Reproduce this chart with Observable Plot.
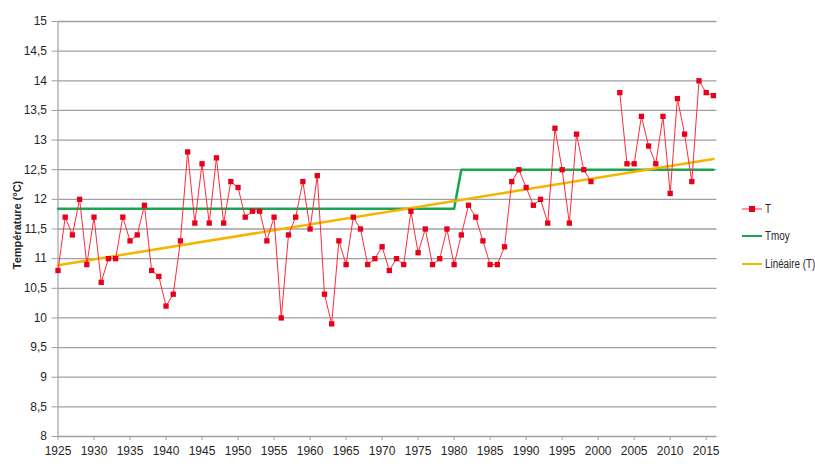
<!DOCTYPE html>
<html><head><meta charset="utf-8">
<script src="https://cdn.jsdelivr.net/npm/d3@7"></script>
<script src="https://cdn.jsdelivr.net/npm/@observablehq/plot@0.6"></script>
<style>
body{margin:0;background:#fff;}
#wrap{position:relative;width:815px;height:472px;font-family:"Liberation Sans Narrow","Arial Narrow","Liberation Sans",Arial,sans-serif;color:#262626;}
#ylab{position:absolute;left:17px;top:225px;transform:translate(-50%,-50%) rotate(-90deg);font-size:11px;font-weight:bold;white-space:nowrap;}
.leg{position:absolute;left:742px;font-size:12px;display:flex;align-items:center;white-space:nowrap;}
.leg .sw{position:relative;width:20px;height:8px;margin-right:3px;}
.leg .sw .ln{position:absolute;left:0;right:0;top:50%;transform:translateY(-50%);}
.leg .sw .mk{position:absolute;left:7px;top:1px;width:6px;height:6px;background:#e8001a;}
.leg span{display:inline-block;transform:scaleX(0.82);transform-origin:left center;}
</style></head><body><div id="wrap"></div>
<script>
const years = [1925,1926,1927,1928,1929,1930,1931,1932,1933,1934,1935,1936,1937,1938,1939,1940,1941,1942,1943,1944,1945,1946,1947,1948,1949,1950,1951,1952,1953,1954,1955,1956,1957,1958,1959,1960,1961,1962,1963,1964,1965,1966,1967,1968,1969,1970,1971,1972,1973,1974,1975,1976,1977,1978,1979,1980,1981,1982,1983,1984,1985,1986,1987,1988,1989,1990,1991,1992,1993,1994,1995,1996,1997,1998,1999,2000,2001,2002,2003,2004,2005,2006,2007,2008,2009,2010,2011,2012,2013,2014,2015,2016];
const temps = [10.8,11.7,11.4,12.0,10.9,11.7,10.6,11.0,11.0,11.7,
11.3,11.4,11.9,10.8,10.7,10.2,10.4,11.3,12.8,11.6,
12.6,11.6,12.7,11.6,12.3,12.2,11.7,11.8,11.8,11.3,
11.7,10.0,11.4,11.7,12.3,11.5,12.4,10.4,9.9,11.3,
10.9,11.7,11.5,10.9,11.0,11.2,10.8,11.0,10.9,11.8,
11.1,11.5,10.9,11.0,11.5,10.9,11.4,11.9,11.7,11.3,
10.9,10.9,11.2,12.3,12.5,12.2,11.9,12.0,11.6,13.2,
12.5,11.6,13.1,12.5,12.3,null,null,null,13.8,12.6,
12.6,13.4,12.9,12.6,13.4,12.1,13.7,13.1,12.3,14.0,
13.8,13.75];
const tmoyYears = [1925,1980,1981,2016];
const tmoyValues = [11.84,11.84,12.5,12.5];
const yTicks = [8,8.5,9,9.5,10,10.5,11,11.5,12,12.5,13,13.5,14,14.5,15];
const xTicks = [1925,1930,1935,1940,1945,1950,1955,1960,1965,1970,1975,1980,1985,1990,1995,2000,2005,2010,2015];
const legendLabels = ["T","Tmoy","Linéaire (T)"];
const colT = "#ff2a3a", colMk = "#e8001a", colMoy = "#1ba552", colLin = "#f4b400";

const data = years.map((y,i)=>({year:y, t:temps[i]}));
const valid = data.filter(d=>d.t!=null);
const tmoy = tmoyYears.map((y,i)=>({year:y, v:tmoyValues[i]}));
const fmt = v => String(v).replace(".", ",");

const plot = Plot.plot({
  width: 815, height: 472,
  marginLeft: 57.5, marginRight: 98.5, marginTop: 21, marginBottom: 36,
  style: {fontFamily:'"Liberation Sans Narrow","Arial Narrow","Liberation Sans",Arial,sans-serif', fontSize:"12px", color:"#262626", background:"transparent"},
  x: {domain:[1925,2016.5]},
  y: {domain:[8,15]},
  marks: [
    Plot.gridY(yTicks, {stroke:"#a0a0a0", strokeOpacity:1, strokeWidth:1.3}),
    Plot.ruleX([1925], {stroke:"#a0a0a0", strokeWidth:1.2}),
    Plot.axisY(yTicks, {tickFormat: fmt, tickSize:6, tickPadding:5, label:null, stroke:"#a0a0a0", fill:"#262626"}),
    Plot.axisX(xTicks, {tickFormat: d=>String(d), tickSize:4, tickPadding:6, label:null, stroke:"#a0a0a0", fill:"#262626"}),
    Plot.line(tmoy, {x:"year", y:"v", stroke:colMoy, strokeWidth:2.5}),
    Plot.linearRegressionY(valid, {x:"year", y:"t", stroke:colLin, strokeWidth:2.5, ci:0}),
    Plot.line(data, {x:"year", y:"t", stroke:colT, strokeWidth:1}),
    Plot.dot(valid, {x:"year", y:"t", symbol:"square", r:3, fill:colMk, stroke:"none"})
  ]
});
const wrap = document.getElementById("wrap");
wrap.appendChild(plot);
const yl = document.createElement("div"); yl.id="ylab"; yl.textContent="Température (°C)"; wrap.appendChild(yl);
const legTops = [210,237,265];
const legCols = [colT,colMoy,colLin];
legendLabels.forEach((lab,i)=>{
  const d = document.createElement("div"); d.className="leg";
  d.style.top=(legTops[i]-8)+"px";
  const sw = document.createElement("div"); sw.className="sw";
  const ln = document.createElement("div"); ln.className="ln";
  ln.style.height = (i===0?1:2)+"px"; ln.style.background = legCols[i];
  sw.appendChild(ln);
  if(i===0){const mk=document.createElement("div");mk.className="mk";sw.appendChild(mk);}
  d.appendChild(sw);
  const t = document.createElement("span"); t.textContent=lab; d.appendChild(t);
  wrap.appendChild(d);
});
</script></body></html>
